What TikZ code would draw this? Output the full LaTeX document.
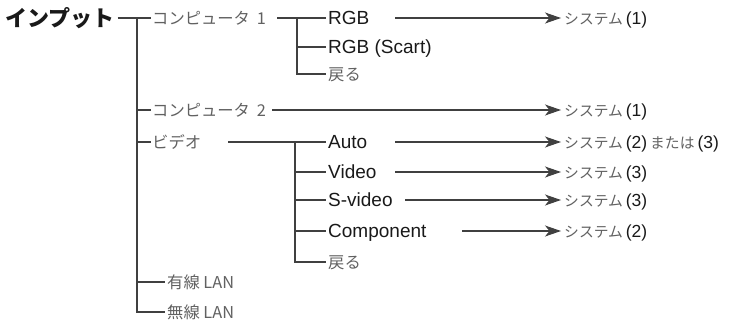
\documentclass[tikz,border=0pt]{standalone}
\usepackage{fontspec}
\setmainfont{Liberation Sans}
\newfontfamily\jp{Noto Sans CJK JP}
\usetikzlibrary{arrows.meta}
\newcommand\jt[1]{{\jp\fontsize{14.8}{18}\selectfont\color{black!62}#1}}
\begin{document}
\begin{tikzpicture}[x=1pt,y=-1pt,
  ln/.style={draw=black!75,line width=1.1pt},
  arr/.style={ln,-{Stealth[length=16pt,width=11pt,inset=4.5pt]}},
  lat/.style={anchor=west,inner sep=0pt,text height=12pt,text depth=0pt,font=\fontsize{19}{21}\selectfont,text=black!90},
  jpn/.style={anchor=west,inner sep=0pt,text height=12pt,text depth=0pt,font=\jp\fontsize{16.3}{19}\selectfont,text=black!62},
  sys/.style={lat,font=\fontsize{17.5}{20}\selectfont},
  head/.style={anchor=west,inner sep=0pt,text height=16pt,text depth=0pt,font=\jp\bfseries\fontsize{22}{24}\selectfont,text=black!90}
]
\useasboundingbox (0,0) rectangle (730,324);
% level 0
\node[head] (inp) at (5,18) {インプット};
\coordinate (t0) at (137,18);
% level 1
\node[jpn] (c1) at (152,18) {コンピュータ\hspace{7pt}1};
\node[jpn] (c2) at (152,110) {コンピュータ\hspace{7pt}2};
\node[jpn] (vid) at (152,142) {ビデオ};
\node[jpn] (lan1) at (167,282) {有線 LAN};
\node[jpn] (lan2) at (167,312) {無線 LAN};
\draw[ln] ([xshift=3pt]inp.east) -- ([xshift=-1pt]c1.west);
\draw[ln] (t0) |- ([xshift=-2pt]lan2.west);
\draw[ln] (t0 |- lan1.west) -- ([xshift=-2pt]lan1.west);
\draw[ln] (t0 |- c2.west) -- ([xshift=-1pt]c2.west);
\draw[ln] (t0 |- vid.west) -- ([xshift=-1pt]vid.west);
% computer 1 branch
\coordinate (s1) at (277,18);
\coordinate (t1) at (297,18);
\node[lat] (rgb) at (328,18) {RGB};
\node[lat] (rgbs) at (328,47) {RGB (Scart)};
\node[jpn] (bk1) at (328,74) {戻る};
\draw[ln] (s1) -- ([xshift=-2pt]rgb.west);
\draw[ln] (t1) |- ([xshift=-2pt]bk1.west);
\draw[ln] (t1 |- rgbs.west) -- ([xshift=-2pt]rgbs.west);
% video branch
\coordinate (s2) at (228,142);
\coordinate (t2) at (295,142);
\node[lat] (auto) at (328,142) {Auto};
\node[lat] (video) at (328,172) {Video};
\node[lat] (svid) at (328,200) {S-video};
\node[lat] (comp) at (328,231) {Component};
\node[jpn] (bk2) at (328,262) {戻る};
\draw[ln] (s2) -- ([xshift=-2pt]auto.west);
\draw[ln] (t2) |- ([xshift=-2pt]bk2.west);
\draw[ln] (t2 |- video.west) -- ([xshift=-2pt]video.west);
\draw[ln] (t2 |- svid.west) -- ([xshift=-2pt]svid.west);
\draw[ln] (t2 |- comp.west) -- ([xshift=-2pt]comp.west);
% systems
\node[sys] (y1) at (564,18) {\jt{システム}\,(1)};
\node[sys] (y2) at (564,110) {\jt{システム}\,(1)};
\node[sys] (y3) at (564,142) {\jt{システム}\,(2)\,\jt{または}\,(3)};
\node[sys] (y4) at (564,172) {\jt{システム}\,(3)};
\node[sys] (y5) at (564,200) {\jt{システム}\,(3)};
\node[sys] (y6) at (564,231) {\jt{システム}\,(2)};
\coordinate (a1) at (395,18);
\coordinate (a2) at (272,110);
\coordinate (a3) at (395,142);
\coordinate (a4) at (395,172);
\coordinate (a5) at (405,200);
\coordinate (a6) at (462,231);
\draw[arr] (a1) -- ([xshift=-3pt]y1.west);
\draw[arr] (a2) -- ([xshift=-3pt]y2.west);
\draw[arr] (a3) -- ([xshift=-3pt]y3.west);
\draw[arr] (a4) -- ([xshift=-3pt]y4.west);
\draw[arr] (a5) -- ([xshift=-3pt]y5.west);
\draw[arr] (a6) -- ([xshift=-3pt]y6.west);
\end{tikzpicture}
\end{document}
